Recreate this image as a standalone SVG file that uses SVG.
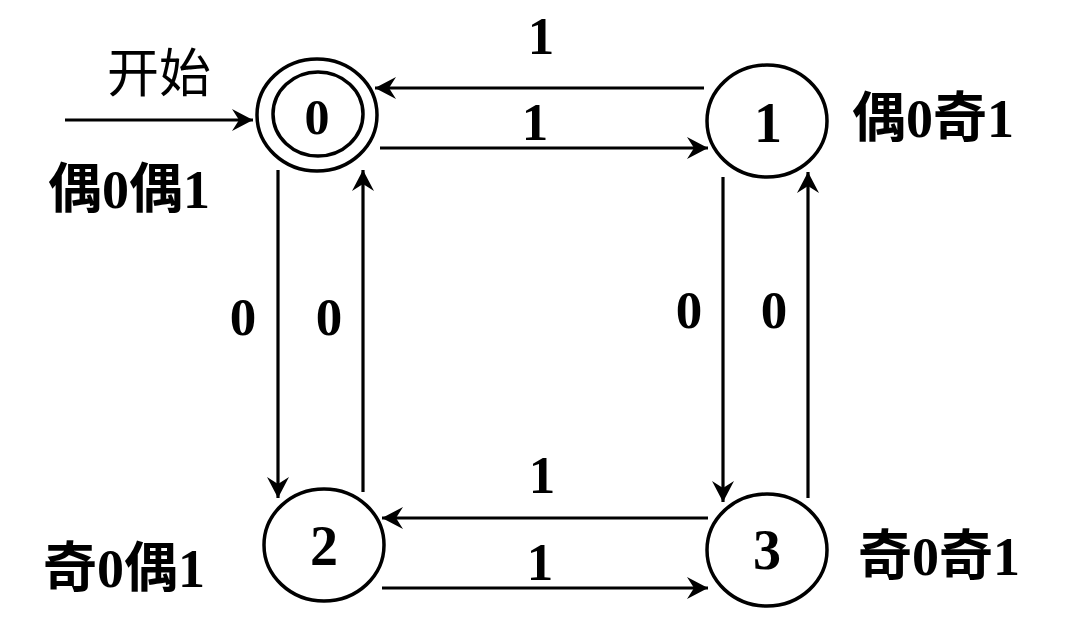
<svg xmlns="http://www.w3.org/2000/svg" width="1072" height="624" viewBox="0 0 1072 624">
<style>
.c{fill:none;stroke:#000;stroke-width:3.5}
.e{fill:none;stroke:#000;stroke-width:3.2;marker-end:url(#ah)}
.d{font-family:"Liberation Serif","Times New Roman",serif;font-weight:bold;font-size:53px;text-anchor:middle;fill:#000}
.n{font-family:"Liberation Serif","Times New Roman",serif;font-weight:bold;font-size:56px;text-anchor:middle;fill:#000}
.s{font-family:"Liberation Serif","Noto Sans CJK SC",serif;font-weight:bold;font-size:54px;fill:#000}
.k{font-family:"Noto Sans CJK SC",sans-serif;font-size:52px;fill:#000}
</style>
<defs>
<marker id="ah" markerUnits="userSpaceOnUse" markerWidth="24" markerHeight="24" refX="21" refY="11" orient="auto" viewBox="0 0 24 24">
<path d="M0,0 L21,11 L0,22 L7,11 z" fill="#000"/>
</marker>
</defs>
<rect width="1072" height="624" fill="#fff"/>
<g id="node0">
<ellipse class="c" cx="317" cy="115" rx="60" ry="56"/>
<ellipse class="c" cx="318" cy="114" rx="45" ry="42"/>
<text class="n" x="317" y="134" style="font-size:50px">0</text>
</g>
<g id="node1">
<ellipse class="c" cx="767" cy="121" rx="60" ry="56"/>
<text class="n" x="768" y="142">1</text>
</g>
<g id="node2">
<ellipse class="c" cx="324" cy="545" rx="60" ry="56"/>
<text class="n" x="324" y="565">2</text>
</g>
<g id="node3">
<ellipse class="c" cx="767" cy="550" rx="60" ry="56"/>
<text class="n" x="767" y="569">3</text>
</g>
<g id="labels">
<text class="k" x="107" y="92">开始</text>
<text class="s" x="48" y="208">偶0偶1</text>
<text class="s" x="852" y="137">偶0奇1</text>
<text class="s" x="43" y="587">奇0偶1</text>
<text class="s" x="858" y="575">奇0奇1</text>
</g>
<g id="connectors">
<path class="e" d="M65,120 H253"/>
<path class="e" d="M704,88 H375"/>
<path class="e" d="M380,148 H708"/>
<path class="e" d="M278,170 V498"/>
<path class="e" d="M363,492 V170"/>
<path class="e" d="M723,177 V502"/>
<path class="e" d="M808,498 V172"/>
<path class="e" d="M708,518 H382"/>
<path class="e" d="M382,588 H708"/>
<text class="d" x="541" y="54">1</text>
<text class="d" x="535" y="140">1</text>
<text class="d" x="243" y="335">0</text>
<text class="d" x="329" y="335">0</text>
<text class="d" x="689" y="328">0</text>
<text class="d" x="774" y="328">0</text>
<text class="d" x="542" y="493">1</text>
<text class="d" x="540" y="580">1</text>
</g>
</svg>
